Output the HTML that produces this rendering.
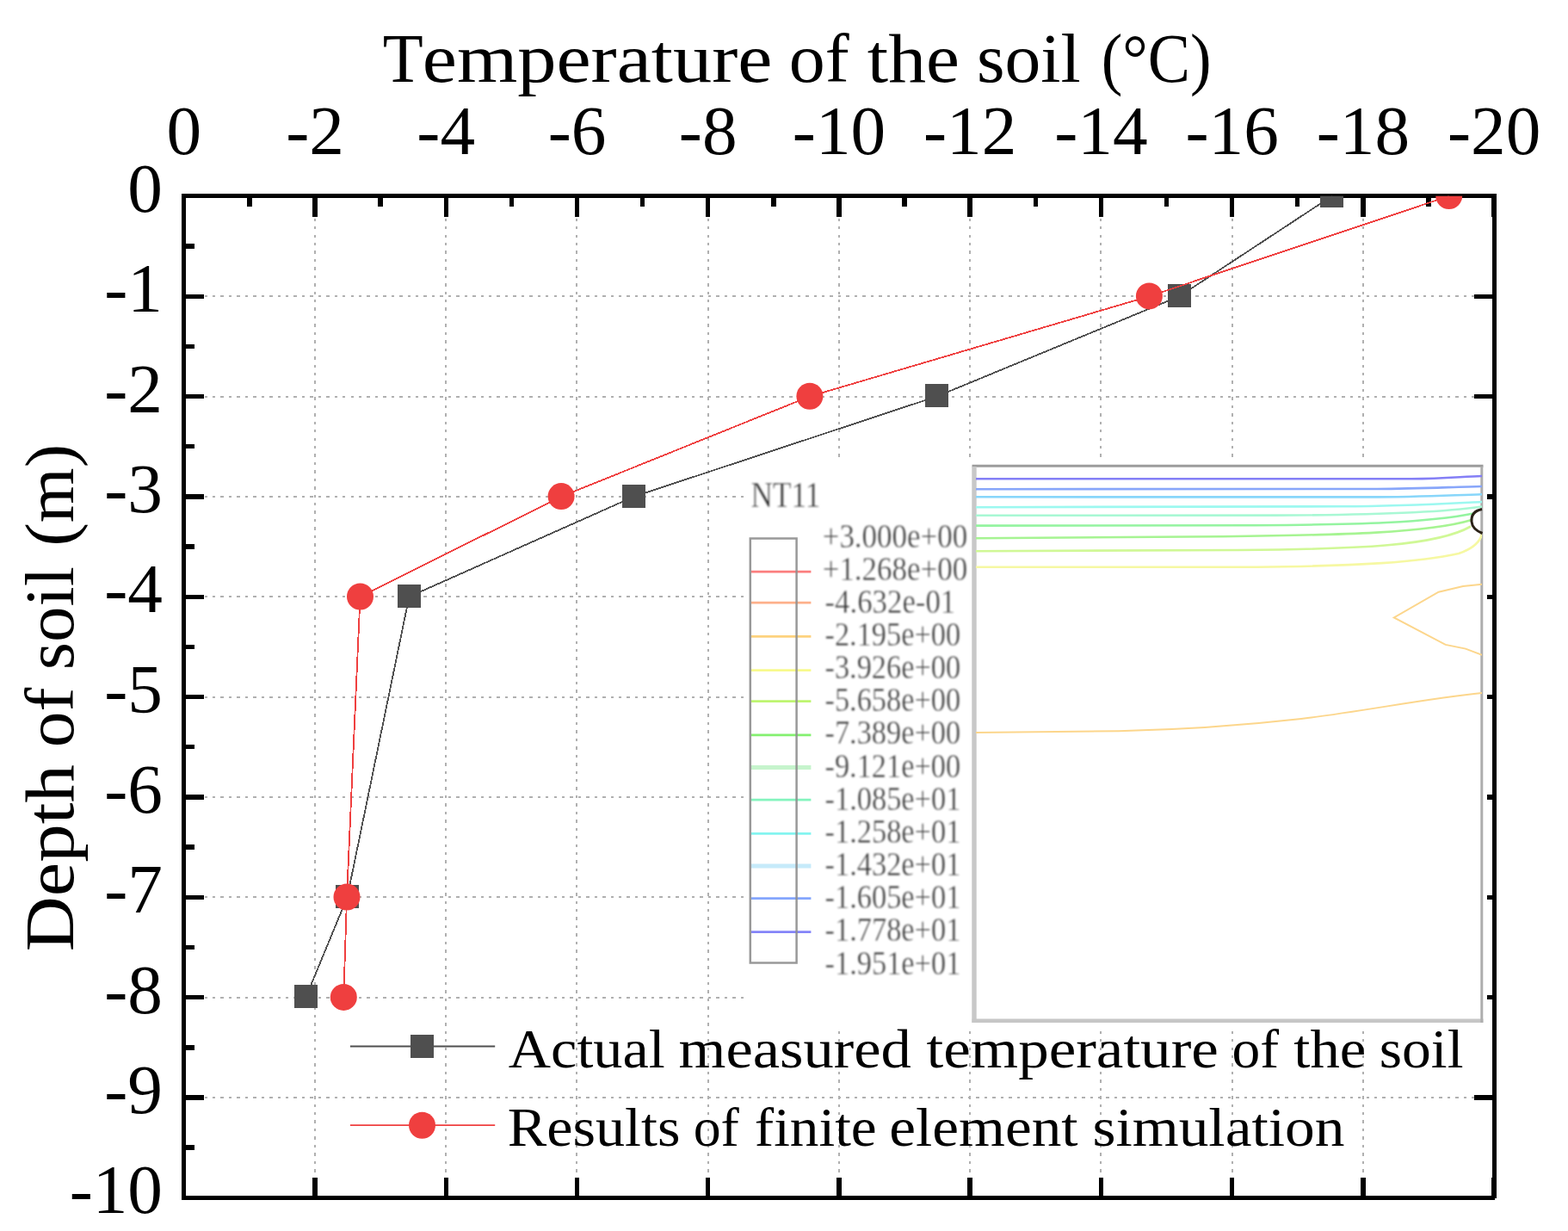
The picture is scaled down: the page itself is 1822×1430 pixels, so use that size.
<!DOCTYPE html>
<html lang="en"><head><meta charset="utf-8"><title>Temperature of the soil vs depth</title>
<style>
html,body{margin:0;padding:0;background:#fff;}
body{width:1822px;height:1430px;overflow:hidden;}
svg{display:block;}
text{font-family:"Liberation Serif", "DejaVu Serif", serif;fill:#000;}
.ax{font-size:81.3px;}
.ttl{font-size:81px;}
.lg{font-size:63px;}
.cb{font-size:39.5px;fill:#282828;stroke:#fff;stroke-width:0.4px;}
</style></head><body>
<svg width="1822" height="1430" viewBox="0 0 1822 1430">
<defs>
<clipPath id="plotclip"><rect x="213.8" y="227.8" width="1522.4" height="1163.5"/></clipPath>
<clipPath id="panelclip"><rect x="1132" y="542" width="590" height="645"/></clipPath>
<filter id="soft" x="-5%" y="-20%" width="110%" height="140%"><feGaussianBlur stdDeviation="0.8"/></filter>
<filter id="soft2" x="-5%" y="-5%" width="110%" height="110%"><feGaussianBlur stdDeviation="0.6"/></filter>
</defs>
<rect x="0" y="0" width="1822" height="1430" fill="#ffffff"/>
<g stroke="#b0b0b0" stroke-width="2" stroke-dasharray="3.4 6.04" fill="none" shape-rendering="crispEdges">
<line x1="366" y1="225.30" x2="366" y2="1389"/>
<line x1="518" y1="225.30" x2="518" y2="1389"/>
<line x1="670" y1="225.30" x2="670" y2="1389"/>
<line x1="823" y1="225.30" x2="823" y2="1389"/>
<line x1="975" y1="225.30" x2="975" y2="1389"/>
<line x1="1127" y1="225.30" x2="1127" y2="1389"/>
<line x1="1279" y1="225.30" x2="1279" y2="1389"/>
<line x1="1432" y1="225.30" x2="1432" y2="1389"/>
<line x1="1584" y1="225.30" x2="1584" y2="1389"/>
<line x1="218.72" y1="344" x2="1734" y2="344"/>
<line x1="218.72" y1="461" x2="1734" y2="461"/>
<line x1="218.72" y1="577" x2="1734" y2="577"/>
<line x1="218.72" y1="693" x2="1734" y2="693"/>
<line x1="218.72" y1="810" x2="1734" y2="810"/>
<line x1="218.72" y1="926" x2="1734" y2="926"/>
<line x1="218.72" y1="1042" x2="1734" y2="1042"/>
<line x1="218.72" y1="1159" x2="1734" y2="1159"/>
<line x1="218.72" y1="1275" x2="1734" y2="1275"/>
</g>
<g fill="#000" stroke="none" shape-rendering="crispEdges">
<rect x="211" y="225" width="1526" height="5"/>
<rect x="211" y="1389" width="1526" height="5"/>
<rect x="211" y="225" width="5" height="1169"/>
<rect x="1734" y="225" width="5" height="1167"/>
<rect x="211" y="225" width="5" height="27"/>
<rect x="211" y="1368" width="5" height="24"/>
<rect x="287" y="225" width="6" height="15"/>
<rect x="363" y="225" width="6" height="27"/>
<rect x="363" y="1368" width="6" height="24"/>
<rect x="439" y="225" width="6" height="15"/>
<rect x="516" y="225" width="5" height="27"/>
<rect x="516" y="1368" width="5" height="24"/>
<rect x="592" y="225" width="5" height="15"/>
<rect x="668" y="225" width="5" height="27"/>
<rect x="668" y="1368" width="5" height="24"/>
<rect x="744" y="225" width="5" height="15"/>
<rect x="820" y="225" width="5" height="27"/>
<rect x="820" y="1368" width="5" height="24"/>
<rect x="896" y="225" width="6" height="15"/>
<rect x="972" y="225" width="6" height="27"/>
<rect x="972" y="1368" width="6" height="24"/>
<rect x="1048" y="225" width="6" height="15"/>
<rect x="1124" y="225" width="6" height="27"/>
<rect x="1124" y="1368" width="6" height="24"/>
<rect x="1201" y="225" width="5" height="15"/>
<rect x="1277" y="225" width="5" height="27"/>
<rect x="1277" y="1368" width="5" height="24"/>
<rect x="1353" y="225" width="5" height="15"/>
<rect x="1429" y="225" width="5" height="27"/>
<rect x="1429" y="1368" width="5" height="24"/>
<rect x="1505" y="225" width="5" height="15"/>
<rect x="1581" y="225" width="6" height="27"/>
<rect x="1581" y="1368" width="6" height="24"/>
<rect x="1657" y="225" width="6" height="15"/>
<rect x="1733" y="225" width="6" height="27"/>
<rect x="1733" y="1368" width="6" height="24"/>
<rect x="211" y="283" width="15" height="6"/>
<rect x="211" y="342" width="26" height="5"/>
<rect x="1713" y="342" width="24" height="5"/>
<rect x="211" y="400" width="15" height="5"/>
<rect x="211" y="458" width="26" height="5"/>
<rect x="1713" y="458" width="24" height="5"/>
<rect x="211" y="516" width="15" height="5"/>
<rect x="211" y="574" width="26" height="6"/>
<rect x="1713" y="574" width="24" height="6"/>
<rect x="211" y="632" width="15" height="6"/>
<rect x="211" y="691" width="26" height="5"/>
<rect x="1713" y="691" width="24" height="5"/>
<rect x="211" y="749" width="15" height="5"/>
<rect x="211" y="807" width="26" height="5"/>
<rect x="1713" y="807" width="24" height="5"/>
<rect x="211" y="865" width="15" height="5"/>
<rect x="211" y="923" width="26" height="6"/>
<rect x="1713" y="923" width="24" height="6"/>
<rect x="211" y="981" width="15" height="6"/>
<rect x="211" y="1040" width="26" height="5"/>
<rect x="1713" y="1040" width="24" height="5"/>
<rect x="211" y="1098" width="15" height="5"/>
<rect x="211" y="1156" width="26" height="5"/>
<rect x="1713" y="1156" width="24" height="5"/>
<rect x="211" y="1214" width="15" height="6"/>
<rect x="211" y="1272" width="26" height="6"/>
<rect x="1713" y="1272" width="24" height="6"/>
<rect x="211" y="1330" width="15" height="6"/>
</g>
<g id="inset">
<rect x="865.5" y="531" width="862.5" height="667" fill="#ffffff"/>
<g filter="url(#soft2)">
<rect x="1132" y="542" width="590" height="644" fill="#fff" stroke="none"/>
<line x1="1129.5" y1="541.3" x2="1723.5" y2="541.3" stroke="#9c9c9c" stroke-width="3"/>
<line x1="1132" y1="542" x2="1132" y2="1188" stroke="#c8c8c8" stroke-width="5.4"/>
<line x1="1129.5" y1="1185.8" x2="1723.5" y2="1185.8" stroke="#c6c6c6" stroke-width="4.6"/>
<line x1="1721.8" y1="542" x2="1721.8" y2="1188" stroke="#aeaeae" stroke-width="3"/>
<g fill="none" stroke-width="2.6" clip-path="url(#panelclip)">
<path stroke="#847ff6" d="M1134,556.3 L1640,556.3 C1680,556 1700,553.5 1722,553"/>
<path stroke="#88a6fa" d="M1134,568.2 L1600,568 C1650,568 1690,565.5 1722,565"/>
<path stroke="#88d6fa" d="M1134,577.3 L1590,577.4 C1650,577.4 1690,575 1722,574.2"/>
<path stroke="#9cf8f0" d="M1134,589.2 L1560,588.3 C1630,588 1690,584.5 1722,583"/>
<path stroke="#a8f8d4" d="M1134,598.8 L1480,598.6 C1590,598.4 1670,596 1722,588.5"/>
<path stroke="#94f4a0" d="M1134,610.6 L1460,610.2 C1580,609.5 1660,607 1712,596.5"/>
<path stroke="#a6f492" d="M1134,625.2 L1420,623.3 C1560,621.5 1660,619 1710,604"/>
<path stroke="#d0f896" d="M1134,640.2 L1440,639 C1580,638 1670,634 1709,611.5"/>
<path stroke="#f6f8a2" d="M1134,658.8 L1460,658.7 C1580,657.5 1650,653 1695,643 C1712,637 1720,630 1722,620"/>
<path stroke="#fcd68c" d="M1722,678.7 L1700,681 L1671.6,687.7 L1619.8,717.4 L1679.6,748.9 L1703,753.6 L1722,760.9" stroke-width="2"/>
<path stroke="#fcd68c" d="M1134,850.9 L1300,849.2 C1380,847.5 1450,842 1512,835 C1580,827 1660,811 1722,805" stroke-width="2"/>
</g>
<path d="M1722,591.5 C1712,593.5 1709.5,600 1710,606 C1710.5,612 1715,616.5 1722.5,619.5" fill="none" stroke="#2a2018" stroke-width="3"/>
<line x1="873" y1="664.1" x2="942.4" y2="664.1" stroke="#fb7e7e" stroke-width="2.8"/>
<line x1="873" y1="700.1" x2="942.4" y2="700.1" stroke="#fdb08a" stroke-width="2.8"/>
<line x1="873" y1="739.4" x2="942.4" y2="739.4" stroke="#fdd27e" stroke-width="2.8"/>
<line x1="873" y1="778.6" x2="942.4" y2="778.6" stroke="#f8fa8c" stroke-width="2.8"/>
<line x1="873" y1="814.7" x2="942.4" y2="814.7" stroke="#bef570" stroke-width="2.8"/>
<line x1="873" y1="853.9" x2="942.4" y2="853.9" stroke="#84f070" stroke-width="2.8"/>
<line x1="873" y1="891.5" x2="942.4" y2="891.5" stroke="#c6f4cc" stroke-width="5.0"/>
<line x1="873" y1="929.2" x2="942.4" y2="929.2" stroke="#84f4be" stroke-width="2.8"/>
<line x1="873" y1="968.4" x2="942.4" y2="968.4" stroke="#84f4f0" stroke-width="2.8"/>
<line x1="873" y1="1006.0" x2="942.4" y2="1006.0" stroke="#c6eafa" stroke-width="5.0"/>
<line x1="873" y1="1043.7" x2="942.4" y2="1043.7" stroke="#84a6fd" stroke-width="2.8"/>
<line x1="873" y1="1082.6" x2="942.4" y2="1082.6" stroke="#8484f8" stroke-width="2.8"/>
<rect x="871.8" y="625.5" width="53.8" height="493" fill="none" stroke="#8e8e8e" stroke-opacity="0.9" stroke-width="2.5"/>
</g>
<g filter="url(#soft)">
<text class="cb" x="872.45" y="589.3" style="font-size:43px" textLength="81.01" lengthAdjust="spacingAndGlyphs">NT11</text>
<text class="cb" x="955.66" y="635.5" textLength="168.63" lengthAdjust="spacingAndGlyphs">+3.000e+00</text>
<text class="cb" x="955.66" y="673.6" textLength="168.63" lengthAdjust="spacingAndGlyphs">+1.268e+00</text>
<text class="cb" x="958.51" y="711.8" textLength="151.72" lengthAdjust="spacingAndGlyphs">-4.632e-01</text>
<text class="cb" x="958.53" y="750.0" textLength="157.54" lengthAdjust="spacingAndGlyphs">-2.195e+00</text>
<text class="cb" x="958.53" y="788.1" textLength="157.54" lengthAdjust="spacingAndGlyphs">-3.926e+00</text>
<text class="cb" x="958.53" y="826.2" textLength="157.54" lengthAdjust="spacingAndGlyphs">-5.658e+00</text>
<text class="cb" x="958.53" y="864.4" textLength="157.54" lengthAdjust="spacingAndGlyphs">-7.389e+00</text>
<text class="cb" x="958.53" y="902.5" textLength="157.54" lengthAdjust="spacingAndGlyphs">-9.121e+00</text>
<text class="cb" x="958.53" y="940.7" textLength="157.89" lengthAdjust="spacingAndGlyphs">-1.085e+01</text>
<text class="cb" x="958.53" y="978.8" textLength="157.89" lengthAdjust="spacingAndGlyphs">-1.258e+01</text>
<text class="cb" x="958.53" y="1017.0" textLength="157.89" lengthAdjust="spacingAndGlyphs">-1.432e+01</text>
<text class="cb" x="958.53" y="1055.2" textLength="157.89" lengthAdjust="spacingAndGlyphs">-1.605e+01</text>
<text class="cb" x="958.53" y="1093.3" textLength="157.89" lengthAdjust="spacingAndGlyphs">-1.778e+01</text>
<text class="cb" x="958.53" y="1131.5" textLength="157.89" lengthAdjust="spacingAndGlyphs">-1.951e+01</text>
</g>
</g>
<g clip-path="url(#plotclip)">
<polyline fill="none" shape-rendering="crispEdges" stroke="#4f4f4f" stroke-width="1.8" points="1547.7,227.8 1370.5,344.2 1088.6,460.5 736.6,576.9 475.4,693.2 403.5,1042.3 355.4,1158.6"/>
<rect x="1534" y="214" width="27" height="27" fill="#4f4f4f" shape-rendering="crispEdges"/>
<rect x="1357" y="330" width="27" height="27" fill="#4f4f4f" shape-rendering="crispEdges"/>
<rect x="1075" y="446" width="27" height="27" fill="#4f4f4f" shape-rendering="crispEdges"/>
<rect x="723" y="563" width="27" height="27" fill="#4f4f4f" shape-rendering="crispEdges"/>
<rect x="462" y="679" width="27" height="27" fill="#4f4f4f" shape-rendering="crispEdges"/>
<rect x="390" y="1028" width="27" height="27" fill="#4f4f4f" shape-rendering="crispEdges"/>
<rect x="342" y="1144" width="27" height="27" fill="#4f4f4f" shape-rendering="crispEdges"/>
<polyline fill="none" shape-rendering="crispEdges" stroke="#ef3f3f" stroke-width="1.8" points="1683.7,227.8 1335.4,344.2 940.9,460.5 652.1,576.9 418.5,693.2 403.0,1042.3 399.3,1158.6"/>
<circle cx="1683.7" cy="227.6" r="15.5" fill="#ef3f3f"/>
<circle cx="1335.4" cy="343.9" r="15.5" fill="#ef3f3f"/>
<circle cx="940.9" cy="460.3" r="15.5" fill="#ef3f3f"/>
<circle cx="652.1" cy="576.6" r="15.5" fill="#ef3f3f"/>
<circle cx="418.5" cy="693.0" r="15.5" fill="#ef3f3f"/>
<circle cx="403.0" cy="1042.0" r="15.5" fill="#ef3f3f"/>
<circle cx="399.3" cy="1158.4" r="15.5" fill="#ef3f3f"/>
</g>
<g id="legend">
<line x1="406.9" y1="1215.5" x2="575.2" y2="1215.5" stroke="#4f4f4f" stroke-width="1.8"/>
<rect x="477" y="1202" width="27" height="27" fill="#4f4f4f" shape-rendering="crispEdges"/>
<line x1="406.9" y1="1307.2" x2="575.2" y2="1307.2" stroke="#ef3f3f" stroke-width="1.8"/>
<circle cx="490.5" cy="1307.2" r="15.5" fill="#ef3f3f"/>
<text class="lg" y="1239.9"><tspan x="590.80" textLength="181.93" lengthAdjust="spacingAndGlyphs">Actual</tspan> <tspan x="788.50" textLength="270.40" lengthAdjust="spacingAndGlyphs">measured</tspan> <tspan x="1076.60" textLength="339.26" lengthAdjust="spacingAndGlyphs">temperature</tspan> <tspan x="1431.45" textLength="54.54" lengthAdjust="spacingAndGlyphs">of</tspan> <tspan x="1503.30" textLength="83.91" lengthAdjust="spacingAndGlyphs">the</tspan> <tspan x="1602.79" textLength="97.64" lengthAdjust="spacingAndGlyphs">soil</tspan></text>
<text class="lg" y="1330.6"><tspan x="589.73" textLength="200.80" lengthAdjust="spacingAndGlyphs">Results</tspan> <tspan x="805.71" textLength="53.11" lengthAdjust="spacingAndGlyphs">of</tspan> <tspan x="876.75" textLength="141.93" lengthAdjust="spacingAndGlyphs">finite</tspan> <tspan x="1033.34" textLength="219.23" lengthAdjust="spacingAndGlyphs">element</tspan> <tspan x="1269.43" textLength="292.97" lengthAdjust="spacingAndGlyphs">simulation</tspan></text>
</g>
<text class="ttl" y="94.9"><tspan x="444.80" textLength="46.91" lengthAdjust="spacingAndGlyphs">T</tspan><tspan x="490.77" textLength="406.61" lengthAdjust="spacingAndGlyphs">emperature</tspan> <tspan x="916.78" textLength="69.92" lengthAdjust="spacingAndGlyphs">of</tspan> <tspan x="1007.80" textLength="107.13" lengthAdjust="spacingAndGlyphs">the</tspan> <tspan x="1134.99" textLength="120.83" lengthAdjust="spacingAndGlyphs">soil</tspan> <tspan x="1279.79" textLength="127.87" lengthAdjust="spacingAndGlyphs">(°C)</tspan></text>
<text class="ttl" y="0" transform="translate(84.8,0) rotate(-90)"><tspan x="-1105.29" textLength="217.09" lengthAdjust="spacingAndGlyphs">Depth</tspan> <tspan x="-868.21" textLength="69.51" lengthAdjust="spacingAndGlyphs">of</tspan> <tspan x="-778.19" textLength="119.91" lengthAdjust="spacingAndGlyphs">soil</tspan> <tspan x="-634.57" textLength="118.53" lengthAdjust="spacingAndGlyphs">(m)</tspan></text>
<g class="ax" text-anchor="middle">
<text x="213.8" y="178.6">0</text>
<text x="366.0" y="178.6">-2</text>
<text x="518.2" y="178.6">-4</text>
<text x="670.5" y="178.6">-6</text>
<text x="822.7" y="178.6">-8</text>
<text x="975.0" y="178.6">-10</text>
<text x="1127.2" y="178.6">-12</text>
<text x="1279.4" y="178.6">-14</text>
<text x="1431.7" y="178.6">-16</text>
<text x="1583.9" y="178.6">-18</text>
<text x="1736.2" y="178.6">-20</text>
</g>
<g class="ax" text-anchor="end">
<text x="189.0" y="245.8">0</text>
<text x="189.0" y="362.2">-1</text>
<text x="189.0" y="478.5">-2</text>
<text x="189.0" y="594.9">-3</text>
<text x="189.0" y="711.2">-4</text>
<text x="189.0" y="827.6">-5</text>
<text x="189.0" y="943.9">-6</text>
<text x="189.0" y="1060.3">-7</text>
<text x="189.0" y="1176.6">-8</text>
<text x="189.0" y="1293.0">-9</text>
<text x="189.0" y="1409.3">-10</text>
</g>
</svg>
</body></html>
